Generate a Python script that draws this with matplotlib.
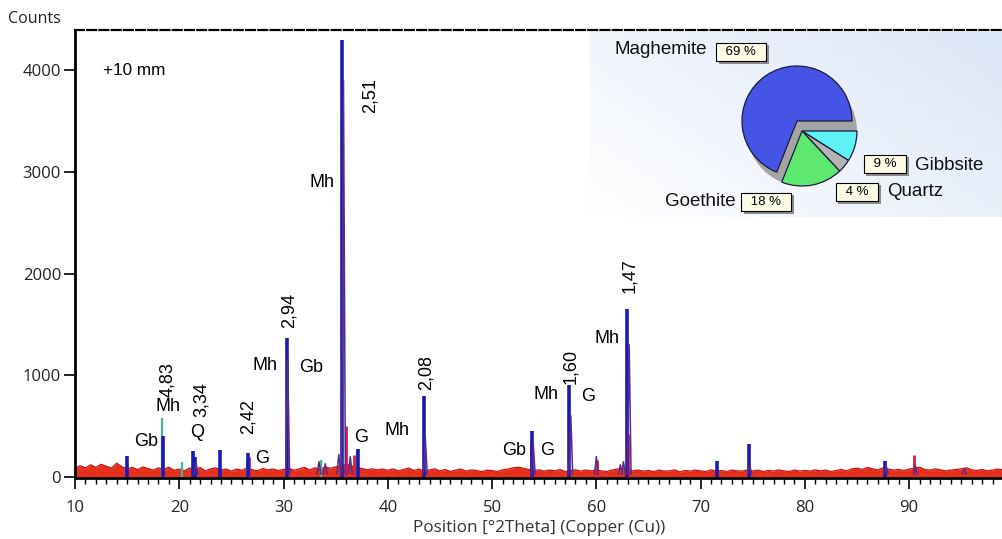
import numpy as np
import matplotlib
matplotlib.use("Agg")
import matplotlib.pyplot as plt
from matplotlib.patches import Wedge
import matplotlib.patheffects as pe

# ---------------- data ----------------
bg_start, bg_step = 10.0, 0.5
red_bg = [85, 110, 90, 120, 95, 125, 105, 88, 135, 100,
          80, 95, 72, 98, 84, 68, 90, 76, 96, 66,
          78, 62, 88, 70, 94, 60, 80, 90, 68, 78,
          58, 78, 66, 88, 72, 60, 84, 70, 78, 64,
          74, 86, 66, 80, 95, 70, 90, 76, 98, 86,
          100, 110, 125, 112, 92, 84, 72, 80, 70, 78,
          66, 80, 60, 74, 88, 64, 78, 56, 70, 80,
          60, 74, 54, 68, 78, 58, 70, 64, 52, 68,
          62, 54, 70, 78, 90, 96, 86, 74, 64, 70,
          58, 68, 60, 74, 54, 64, 70, 58, 68, 60,
          70, 60, 54, 68, 78, 84, 74, 60, 68, 58,
          64, 54, 68, 58, 60, 70, 50, 64, 58, 68,
          60, 54, 70, 58, 64, 54, 68, 60, 58, 70,
          60, 68, 54, 64, 58, 70, 60, 54, 68, 58,
          64, 58, 70, 60, 68, 54, 64, 74, 60, 80,
          86, 74, 94, 80, 70, 90, 78, 68, 74, 64,
          78, 86, 96, 74, 68, 80, 70, 60, 68, 74,
          80, 90, 70, 64, 74, 60, 68, 78, 70]

blue_pos = [15.0, 18.4, 21.3, 21.5, 23.9, 26.6, 30.3, 35.65, 37.1, 43.5, 53.85, 57.4, 62.95, 71.6, 74.6, 87.7]
blue_h   = [210, 400, 260, 200, 270, 240, 1370, 4300, 280, 800, 450, 900, 1650, 160, 320, 160]

purple_pos = [30.4, 35.75, 43.6, 53.95, 57.55, 63.15, 60.0, 74.7, 87.8, 90.6, 95.3, 33.4, 34.0, 35.3, 36.4, 62.3, 62.6, 21.6]
purple_h   = [1150, 3900, 380, 320, 600, 1300, 200, 120, 110, 110, 80, 150, 130, 220, 200, 120, 150, 150]

red_pos = [36.0, 53.7, 63.05, 90.5, 26.7, 60.05, 36.8]
red_h   = [500, 330, 420, 220, 200, 170, 220]

green_pos = [18.3, 20.3, 33.6, 37.0, 26.5]
green_h   = [580, 150, 170, 260, 170]

tick_x = [10, 20, 30, 40, 50, 60, 70, 80, 90]
tick_y = [0, 1000, 2000, 3000, 4000]

peak_labels = [  # text, x, y, rotation
    ("Mh", 33.7, 2900, 0), ("2,51", 38.3, 3750, 90),
    ("2,94", 30.5, 1640, 90), ("Mh", 28.2, 1100, 0), ("Gb", 32.6, 1080, 0),
    ("4,83", 18.9, 960, 90), ("Mh", 18.9, 690, 0), ("Gb", 16.8, 350, 0),
    ("3,34", 22.1, 760, 90), ("Q", 21.7, 440, 0),
    ("2,42", 26.6, 590, 90), ("G", 27.9, 180, 0),
    ("G", 37.4, 385, 0), ("Mh", 40.9, 460, 0), ("2,08", 43.7, 1030, 90),
    ("Gb", 52.1, 265, 0), ("G", 55.3, 265, 0),
    ("Mh", 55.2, 815, 0), ("G", 59.2, 795, 0), ("1,60", 57.5, 1090, 90),
    ("Mh", 61.0, 1357, 0), ("1,47", 63.2, 1976, 90),
]

phases = ["Gibbsite", "Quartz", "Goethite", "Maghemite"]
phase_pct = [9, 4, 18, 69]
phase_colors = ["#5ef2f6", "#b4b4b4", "#5fe870", "#4654e6"]

# ---------------- figure ----------------
W, H = 1003, 539
fig = plt.figure(figsize=(W / 100, H / 100), dpi=100)
ax = fig.add_axes([75 / W, 1 - 478 / H, 1 - 75 / W, (478 - 30) / H])

bx = bg_start + bg_step * np.arange(len(red_bg))
ax.fill_between(bx, 0, red_bg, color="#e8301c", lw=0, zorder=2)
ax.plot(bx, red_bg, color="#c01818", lw=0.9, zorder=2)

ax.vlines(green_pos, 0, green_h, color="#3cb8a0", lw=1.6, zorder=3)
ax.vlines(red_pos, 0, red_h, color="#d8203a", lw=2.0, zorder=3)
ax.vlines(blue_pos, 0, blue_h, color="#1a1ab8", lw=2.6, zorder=4)
hw = 0.18
for p, h in zip(purple_pos, purple_h):
    ax.plot([p - hw, p, p + hw], [30, h, 30], color="#5a2a8a", lw=1.1, zorder=5)

ax.set_xlim(10, 99.0)
ax.set_ylim(-10, 4395)
ax.set_xticks(tick_x)
ax.set_xticks(np.arange(10, 99, 1), minor=True)
ax.set_yticks(tick_y)
ax.tick_params(axis="x", which="major", direction="out", length=8, width=1.2,
               labelsize=12, colors="black", pad=8)
ax.tick_params(axis="y", which="major", direction="out", length=8, width=1.2,
               labelsize=12, colors="black", pad=2)
ax.tick_params(axis="x", which="minor", direction="out", length=4.3, width=1)
for lab in ax.get_xticklabels() + ax.get_yticklabels():
    lab.set_fontfamily("Open Sans")
    lab.set_color("#222222")
ax.spines["left"].set_linewidth(2)
ax.spines["bottom"].set_linewidth(2)
ax.spines["right"].set_visible(False)
ax.spines["top"].set_linestyle((0, (4, 1.5)))
ax.spines["top"].set_linewidth(1.6)

ax.set_xlabel("Position [°2Theta] (Copper (Cu))", fontfamily="Open Sans",
              fontsize=12.3, color="#333333", labelpad=3)
fig.text(8 / W, 1 - 19 / H, "Counts", fontfamily="Open Sans", fontsize=11.5,
         color="#222222", va="center", ha="left")

ax.text(12.7, 4000, "+10 mm", fontfamily="Liberation Sans", fontsize=12.3,
        va="center", ha="left")
for t, x, y, r in peak_labels:
    ax.text(x, y, t, fontfamily="Liberation Sans", fontsize=13, rotation=r,
            ha="center", va="center", zorder=6)

# ---------------- pie inset ----------------
box = [590 / W, 1 - 217 / H, (W - 590) / W, (217 - 32) / H]
bgax = fig.add_axes(box, zorder=10)
grad = np.linspace(0, 1, 100)[None, :] * 0.6 + np.linspace(1, 0, 100)[:, None] * 0.4
bgax.imshow(grad, cmap=matplotlib.colors.LinearSegmentedColormap.from_list(
    "g", ["#ffffff", "#dbe6f7"]), aspect="auto", extent=(590, W, 217, 32), zorder=0)
bgax.set_xlim(590, W)
bgax.set_ylim(217, 32)
bgax.axis("off")

def pct_box(x, y, txt):
    t = bgax.text(x, y, "\u2002" + txt + "\u2002", fontsize=9.5, ha="center", va="center",
                  fontfamily="Liberation Sans",
                  bbox=dict(boxstyle="square,pad=0.25", fc="#fbfbe6", ec="black", lw=0.8),
                  zorder=3)
    t.get_bbox_patch().set_path_effects(
        [pe.SimplePatchShadow(offset=(2, -2), shadow_rgbFace="#8c8c8c", alpha=1), pe.Normal()])

lab_kw = dict(fontsize=13.5, va="center", fontfamily="Liberation Sans", color="#111111")
bgax.text(615, 50, "Maghemite", ha="left", **lab_kw)
pct_box(741, 52, "69 %")
bgax.text(736, 202, "Goethite", ha="right", **lab_kw)
pct_box(766, 202, "18 %")
pct_box(885, 164, "9 %")
bgax.text(915, 166, "Gibbsite", ha="left", **lab_kw)
pct_box(857, 192, "4 %")
bgax.text(887, 191, "Quartz", ha="left", **lab_kw)

pax = fig.add_axes(box, zorder=11)
pax.set_xlim(590, W)
pax.set_ylim(-217, -32)
pax.patch.set_alpha(0)
pax.axis("off")
R = 55
c_main, c_rest = (797, -121), (802, -131)
angles = np.cumsum([0] + [p * 3.6 for p in phase_pct])
for i, (name, col) in enumerate(zip(phases, phase_colors)):
    th1, th2 = -angles[i + 1], -angles[i]
    if name == "Maghemite":
        pax.add_patch(Wedge(c_rest, R, th1, th2, fc="#a4a4a4", ec="none", zorder=1))
        c = c_main
    else:
        c = c_rest
    pax.add_patch(Wedge(c, R, th1, th2, fc=col, ec="#1a1a40", lw=0.9, zorder=2))

fig.savefig("out.png", dpi=100)
